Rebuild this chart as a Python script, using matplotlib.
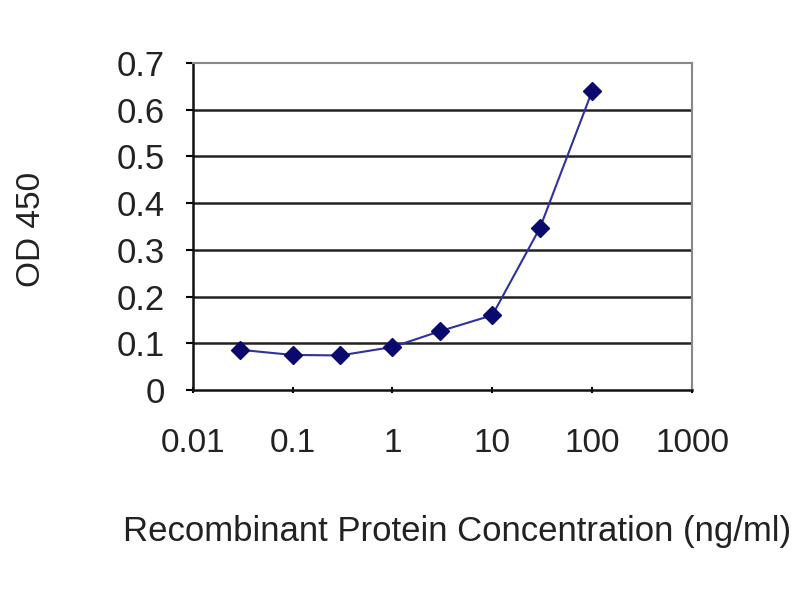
import matplotlib
matplotlib.use('Agg')
import matplotlib.pyplot as plt
import matplotlib.ticker as mticker

# concentration (ng/ml) vs OD 450
conc = [0.03, 0.1, 0.3, 1, 3, 10, 30, 100]
od450 = [0.086, 0.075, 0.074, 0.092, 0.126, 0.160, 0.347, 0.640]

x_ticks = [0.01, 0.1, 1, 10, 100, 1000]
x_tick_labels = ['0.01', '0.1', '1', '10', '100', '1000']
y_ticks = [0, 0.1, 0.2, 0.3, 0.4, 0.5, 0.6, 0.7]
y_tick_labels = ['0', '0.1', '0.2', '0.3', '0.4', '0.5', '0.6', '0.7']

plt.rcParams['font.family'] = ['Liberation Sans', 'DejaVu Sans']

fig = plt.figure(figsize=(8, 6), dpi=100)
ax = fig.add_axes([0.241, 0.35, 0.624, 0.545])

# horizontal grid lines
for yv in y_ticks[1:-1]:
    ax.axhline(yv, color='#222222', linewidth=1.8, zorder=1)

ax.plot(conc, od450, color='#3030a0', linewidth=1.5, marker='D', markersize=9,
        markerfacecolor='#0a0a6e', markeredgecolor='#0a0a6e', zorder=3)

ax.set_xscale('log')
ax.set_xlim(0.01, 1000)
ax.set_ylim(0, 0.7)
ax.xaxis.set_major_locator(mticker.FixedLocator(x_ticks))
ax.xaxis.set_major_formatter(mticker.FixedFormatter(x_tick_labels))
ax.xaxis.set_minor_locator(mticker.NullLocator())
ax.set_yticks(y_ticks)
ax.set_yticklabels(y_tick_labels)

ax.tick_params(axis='y', direction='out', length=5, width=1.5, labelsize=25, pad=15,
               labelcolor='#222222')
ax.tick_params(axis='x', direction='inout', length=5, width=1.5, labelsize=24, pad=25,
               labelcolor='#222222')

for side in ['left', 'bottom']:
    ax.spines[side].set_color('#111111')
    ax.spines[side].set_linewidth(1.8)
for side in ['top', 'right']:
    ax.spines[side].set_color('#888888')
    ax.spines[side].set_linewidth(1.5)

fig.text(0.571, 0.114, 'Recombinant Protein Concentration (ng/ml)', fontsize=25,
         ha='center', va='center', color='#222222')
fig.text(0.039, 0.617, 'OD 450', fontsize=24, rotation=90,
         ha='center', va='center', color='#222222')

fig.savefig('out.png', dpi=100)
